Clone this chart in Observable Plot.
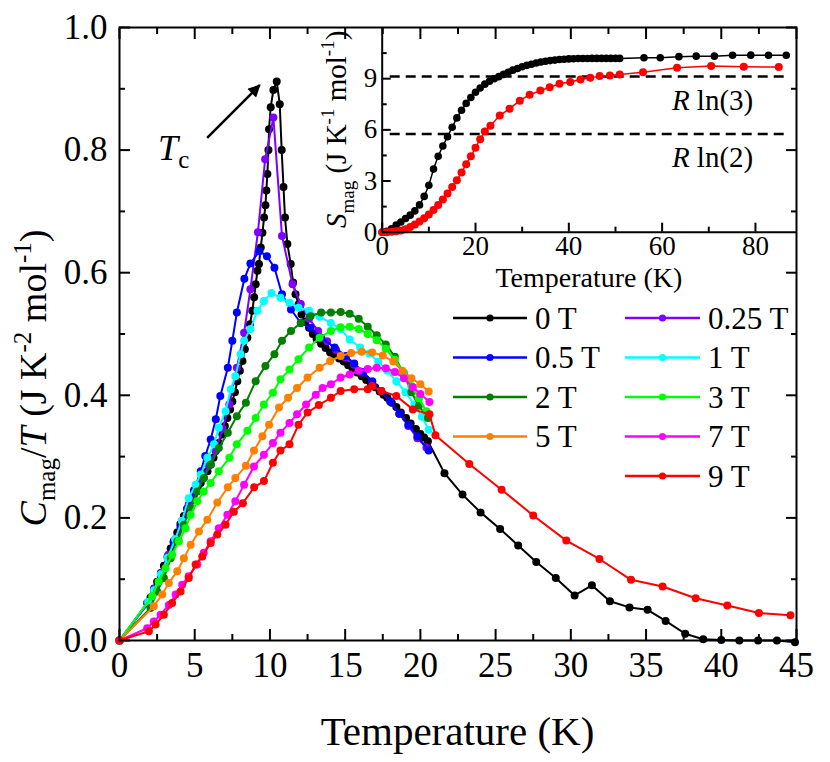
<!DOCTYPE html>
<html><head><meta charset="utf-8">
<script src="https://cdn.jsdelivr.net/npm/d3@7"></script>
<script src="https://cdn.jsdelivr.net/npm/@observablehq/plot@0.6"></script>
<style>
body{margin:0;background:#fff;}
#wrap{position:relative;width:830px;height:762px;overflow:hidden;}
#wrap svg{position:absolute;top:0;overflow:visible;}
</style></head><body><div id="wrap"></div>
<script>
const FONT = "'Liberation Serif','Times New Roman',serif";

// ---- main chart: C_mag/T vs Temperature ----
const fieldNames = ["0 T","0.25 T","0.5 T","1 T","2 T","3 T","5 T","7 T","9 T"];
const fieldColors = ["#000000","#8000ff","#0000ff","#00ffff","#008000","#00ff00","#ff8000","#ff00ff","#ff0000"];

const T_0T = [0,1.84,2.06,2.3,2.5,2.75,2.95,3.2,3.4,3.6,3.84,4.05,4.28,4.5,4.73,4.95,5.2,5.4,5.6,5.85,6.06,6.25,6.4,6.6,6.84,7.0,7.17,7.35,7.5,7.67,7.83,8.0,8.17,8.33,8.5,8.67,8.83,8.95,9.05,9.17,9.27,9.39,9.5,9.61,9.7,9.76,9.83,9.9,9.94,10.05,10.23,10.45,10.65,10.78,10.9,11.0,11.16,11.38,11.54,11.7,11.9,12.1,12.35,12.6,12.85,13.1,13.4,13.7,14.0,14.3,14.6,14.9,15.2,15.5,15.8,16.1,16.4,16.7,17.0,17.3,17.55,17.8,18.1,18.4,18.7,19.05,19.35,19.7,20.0,20.25,20.5,21.6,22.8,24.0,25.3,26.5,27.7,29.0,30.25,31.4,32.6,33.9,35.1,36.3,37.6,38.8,40.0,41.2,42.45,43.7,44.9];
const C_0T = [0,0.061,0.07,0.085,0.096,0.11,0.122,0.137,0.15,0.162,0.176,0.19,0.203,0.215,0.227,0.238,0.25,0.257,0.265,0.276,0.287,0.298,0.309,0.322,0.336,0.35,0.363,0.377,0.39,0.405,0.423,0.44,0.456,0.475,0.494,0.516,0.538,0.56,0.581,0.603,0.614,0.641,0.665,0.69,0.71,0.734,0.761,0.8,0.834,0.87,0.898,0.912,0.875,0.8,0.74,0.69,0.647,0.614,0.584,0.565,0.548,0.532,0.52,0.51,0.5,0.492,0.484,0.477,0.47,0.465,0.46,0.455,0.449,0.443,0.437,0.431,0.425,0.419,0.413,0.406,0.401,0.396,0.388,0.381,0.372,0.363,0.354,0.345,0.337,0.331,0.325,0.273,0.238,0.209,0.182,0.155,0.128,0.102,0.0735,0.09,0.064,0.054,0.05,0.032,0.011,0.002,0.001,0,0,0,-0.003];

const T_025T = [0,1.9,2.35,2.8,3.25,3.7,4.15,4.6,5.05,5.5,5.95,6.4,6.85,7.3,7.8,8.28,8.7,9.2,9.68,10.23,10.8,11.5,12.05,12.6,13.2,13.8,14.4,15.0,15.6,16.2,16.8,17.4,18.0,18.6,19.2,19.8,20.4];
const C_025T = [0,0.06,0.085,0.11,0.14,0.165,0.195,0.222,0.245,0.265,0.285,0.31,0.345,0.385,0.445,0.502,0.573,0.666,0.785,0.853,0.66,0.581,0.549,0.525,0.505,0.488,0.474,0.462,0.45,0.437,0.423,0.407,0.39,0.37,0.35,0.33,0.315];

const T_05T = [0,1.9,2.3,2.75,3.2,3.6,4.05,4.5,4.95,5.4,5.7,6.06,6.4,6.7,7.2,7.5,7.8,8.3,8.7,9.3,9.8,10.3,10.8,11.4,12.05,12.7,13.4,14.3,15.05,15.6,16.2,16.8,17.4,18.0,18.6,19.2,19.8,20.55];
const C_05T = [0,0.062,0.08,0.105,0.135,0.16,0.185,0.215,0.245,0.276,0.301,0.328,0.361,0.399,0.445,0.489,0.535,0.59,0.615,0.635,0.627,0.608,0.565,0.54,0.518,0.51,0.494,0.478,0.464,0.452,0.438,0.422,0.407,0.39,0.37,0.352,0.333,0.31];

const T_1T = [0,1.9,2.3,2.75,3.2,3.7,4.15,4.6,5.06,5.4,5.84,6.28,6.6,7.05,7.4,7.7,8.05,8.28,8.7,9.17,9.6,10.1,10.7,11.3,11.9,12.6,13.3,14.05,14.7,15.3,16.0,16.6,17.2,17.8,18.4,19.0,19.6,20.1,20.55];
const C_1T = [0,0.063,0.082,0.108,0.135,0.165,0.195,0.232,0.254,0.271,0.298,0.32,0.347,0.374,0.41,0.431,0.467,0.489,0.508,0.538,0.554,0.567,0.559,0.551,0.543,0.538,0.528,0.518,0.508,0.491,0.478,0.468,0.455,0.44,0.423,0.405,0.385,0.365,0.344];

const T_2T = [0,2.06,2.5,2.95,3.4,3.84,4.28,4.73,5.17,5.6,6.06,6.6,7.2,7.8,8.4,9.05,9.7,10.3,10.8,11.4,12.05,12.7,13.4,14.05,14.7,15.3,15.9,16.5,17.1,17.7,18.3,18.9,19.4,19.9,20.5];
const C_2T = [0,0.053,0.08,0.102,0.134,0.162,0.189,0.216,0.243,0.265,0.287,0.314,0.339,0.366,0.388,0.423,0.448,0.467,0.489,0.505,0.518,0.529,0.535,0.535,0.536,0.533,0.525,0.512,0.498,0.483,0.463,0.435,0.405,0.383,0.363];

const T_3T = [0,2.17,2.6,3.06,3.5,3.95,4.39,4.73,5.17,5.6,6.06,6.6,7.3,7.8,8.5,9.05,9.6,10.2,10.7,11.3,11.9,12.6,13.3,14.05,14.7,15.3,15.9,16.5,17.1,17.7,18.3,18.9,19.4,19.9,20.4];
const C_3T = [0,0.072,0.096,0.118,0.14,0.162,0.183,0.205,0.227,0.243,0.257,0.276,0.298,0.32,0.342,0.363,0.385,0.404,0.426,0.442,0.459,0.478,0.494,0.505,0.511,0.512,0.508,0.5,0.49,0.476,0.458,0.437,0.415,0.395,0.374];

const T_5T = [0,2.28,2.84,3.28,3.84,4.28,4.73,5.28,5.84,6.5,7.2,7.7,8.4,8.94,9.5,9.94,10.6,11.2,11.8,12.5,13.3,14.0,14.7,15.4,16.1,16.8,17.5,18.2,18.8,19.4,20.0,20.55];
const C_5T = [0,0.056,0.075,0.094,0.113,0.134,0.156,0.178,0.197,0.225,0.25,0.265,0.285,0.31,0.333,0.352,0.38,0.396,0.412,0.429,0.445,0.456,0.464,0.469,0.471,0.47,0.465,0.455,0.44,0.428,0.418,0.406];

const T_7T = [0,1.84,2.28,2.73,3.28,3.73,4.17,4.6,5.17,5.6,6.06,6.6,7.17,7.7,8.28,8.94,9.6,10.2,10.7,11.3,11.8,12.4,13.05,13.5,14.05,14.7,15.3,15.9,16.5,17.1,17.7,18.3,18.9,19.5,20.0,20.6];
const C_7T = [0,0.02,0.031,0.042,0.058,0.075,0.091,0.105,0.124,0.143,0.162,0.183,0.205,0.227,0.254,0.284,0.303,0.322,0.339,0.355,0.369,0.385,0.401,0.412,0.418,0.429,0.434,0.44,0.443,0.445,0.444,0.438,0.428,0.413,0.402,0.389];

const T_9T = [0,1.95,2.4,2.95,3.5,4.06,4.6,5.06,5.5,6.06,6.5,7.05,7.6,8.2,8.95,9.6,10.2,10.7,11.3,11.9,12.5,13.25,14.05,14.7,15.6,16.5,16.8,17.4,18.4,19.5,20.6,21.0,23.25,25.4,27.5,29.7,31.9,34.0,36.1,38.3,40.4,42.5,44.6];
const C_9T = [0,0.015,0.026,0.042,0.061,0.08,0.102,0.124,0.137,0.159,0.173,0.189,0.21,0.224,0.25,0.26,0.29,0.31,0.32,0.352,0.372,0.384,0.396,0.407,0.41,0.41,0.415,0.407,0.399,0.377,0.369,0.335,0.288,0.246,0.204,0.163,0.133,0.099,0.088,0.069,0.057,0.045,0.041];

const seriesT = [T_0T,T_025T,T_05T,T_1T,T_2T,T_3T,T_5T,T_7T,T_9T];
const seriesC = [C_0T,C_025T,C_05T,C_1T,C_2T,C_3T,C_5T,C_7T,C_9T];

const mainXTicks = [0,5,10,15,20,25,30,35,40,45];
const mainXMinor = [2.5,7.5,12.5,17.5,22.5,27.5,32.5,37.5,42.5];
const mainYTicks = [0,0.2,0.4,0.6,0.8,1.0];
const mainYMinor = [0.1,0.3,0.5,0.7,0.9];

// T_c annotation (data coordinates)
const tcArrow = {x1: 5.86, y1: 0.819, x2: 9.35, y2: 0.905};
const tcLabel = {x: 2.6, y: 0.783};

// ---- inset: S_mag vs Temperature ----
const insetT_0T = [0,1,2,3,4,5,6,7,8,9,10,11,12,13,14,15,16,17,18,19,20,21,22,23,24,25,26,27,28,29,30,31,32,33,34,35,36,37,38,39,40,41,42,43,44,45,46,47,48,49,50,50.9,56.1,59.6,63.6,67.3,71.2,75.1,79.0,82.8,86.6];
const insetS_0T = [0,0.05,0.2,0.42,0.6,0.8,1.0,1.25,1.6,2.1,2.75,3.7,4.45,5.05,5.6,6.15,6.7,7.15,7.55,7.9,8.2,8.45,8.68,8.85,9.0,9.12,9.25,9.38,9.5,9.6,9.7,9.78,9.85,9.92,9.98,10.02,10.06,10.09,10.12,10.14,10.16,10.17,10.18,10.18,10.18,10.19,10.19,10.19,10.19,10.19,10.19,10.19,10.23,10.23,10.29,10.32,10.32,10.37,10.38,10.37,10.37];
const insetT_9T = [0,1,2,3,4,5,6,7,8,9,10,11,12,13,14,15,16,17,18,19,20,21,22,23.2,25.2,27.3,29.5,31.6,33.9,35.9,38,40.3,42.5,44.6,46.6,48.8,50.9,55.9,63.2,70.5,77.5,85];
const insetS_9T = [0,0,0.02,0.05,0.1,0.18,0.3,0.45,0.62,0.82,1.04,1.3,1.6,1.92,2.27,2.65,3.05,3.5,3.98,4.45,4.95,5.45,5.9,6.24,6.84,7.24,7.71,8.06,8.3,8.5,8.7,8.81,8.95,9.05,9.15,9.19,9.25,9.38,9.64,9.74,9.7,9.68];
const entropyLines = [Math.log(3)*8.314, Math.log(2)*8.314];
const entropyLabels = ["3","2"];
const insetXTicks = [0,20,40,60,80];
const insetXMinor = [10,30,50,70];
const insetYTicks = [0,3,6,9];
const insetYMinor = [1.5,4.5,7.5,10.5];

// ---- build main plot ----
const mainMarks = [];
seriesT.forEach((Ts, k) => {
  const rows = Ts.map((t, i) => ({T: t, C: seriesC[k][i]}));
  mainMarks.push(Plot.line(rows, {x: "T", y: "C", stroke: fieldColors[k], strokeWidth: 2}));
  mainMarks.push(Plot.dot(rows, {x: "T", y: "C", fill: fieldColors[k], r: 4}));
});

const tickStyle = {strokeWidth: 2, label: null, tickFormat: () => ""};
const main = Plot.plot({
  width: 830, height: 762,
  marginLeft: 119, marginRight: 34, marginTop: 27, marginBottom: 122,
  style: {fontFamily: FONT, background: "transparent", color: "black"},
  x: {domain: [0, 45]},
  y: {domain: [0, 1]},
  marks: [
    Plot.axisX(mainXTicks, {...tickStyle, anchor: "bottom", tickSize: -11}),
    Plot.axisX(mainXMinor, {...tickStyle, anchor: "bottom", tickSize: -6}),
    Plot.axisX(mainXTicks, {...tickStyle, anchor: "top", tickSize: -11}),
    Plot.axisX(mainXMinor, {...tickStyle, anchor: "top", tickSize: -6}),
    Plot.axisY(mainYTicks, {...tickStyle, anchor: "left", tickSize: -11}),
    Plot.axisY(mainYMinor, {...tickStyle, anchor: "left", tickSize: -6}),
    Plot.axisY(mainYTicks, {...tickStyle, anchor: "right", tickSize: -11}),
    Plot.axisY(mainYMinor, {...tickStyle, anchor: "right", tickSize: -6}),
    Plot.axisX(mainXTicks, {anchor: "bottom", tickSize: 0, tickPadding: 12, fontSize: 35, label: null, tickFormat: d => String(d)}),
    Plot.axisY(mainYTicks, {anchor: "left", tickSize: 0, tickPadding: 12, fontSize: 35, label: null, tickFormat: d3.format(".1f")}),
    ...mainMarks,
    Plot.frame({strokeWidth: 2})
  ]
});
main.style.left = "0px";
document.getElementById("wrap").appendChild(main);

const sx = main.scale("x"), sy = main.scale("y");
const msvg = d3.select(main);

// y-axis title
const yt = msvg.append("text")
  .attr("transform", "translate(46,378) rotate(-90)")
  .attr("text-anchor", "middle")
  .style("font-family", FONT).style("font-size", "38px").attr("fill", "black");
yt.append("tspan").style("font-style", "italic").text("C");
yt.append("tspan").attr("dy", 9).style("font-size", "25px").text("mag");
yt.append("tspan").attr("dy", -9).text("/");
yt.append("tspan").style("font-style", "italic").text("T");
yt.append("tspan").text(" (J K");
yt.append("tspan").attr("dy", -15).style("font-size", "25px").text("-2");
yt.append("tspan").attr("dy", 15).text(" mol");
yt.append("tspan").attr("dy", -15).style("font-size", "25px").text("-1");
yt.append("tspan").attr("dy", 15).text(")");

// x-axis title
msvg.append("text").attr("x", (sx.range[0] + sx.range[1]) / 2).attr("y", 745)
  .attr("text-anchor", "middle").style("font-family", FONT).style("font-size", "41px")
  .text("Temperature (K)");

// T_c annotation
const defs = msvg.append("defs");
defs.append("marker").attr("id", "ah").attr("viewBox", "0 0 10 10").attr("refX", 9).attr("refY", 5)
  .attr("markerWidth", 6).attr("markerHeight", 5).attr("markerUnits", "strokeWidth").attr("orient", "auto")
  .append("path").attr("d", "M0,0L10,5L0,10z").attr("fill", "black");
msvg.append("line")
  .attr("x1", sx.apply(tcArrow.x1)).attr("y1", sy.apply(tcArrow.y1))
  .attr("x2", sx.apply(tcArrow.x2)).attr("y2", sy.apply(tcArrow.y2))
  .attr("stroke", "black").attr("stroke-width", 2.5).attr("marker-end", "url(#ah)");
const tc = msvg.append("text").attr("x", sx.apply(tcLabel.x)).attr("y", sy.apply(tcLabel.y))
  .attr("text-anchor", "start")
  .style("font-family", FONT).style("font-size", "36px");
tc.append("tspan").style("font-style", "italic").text("T");
tc.append("tspan").attr("dy", 8).style("font-size", "25px").text("c");

// legend
const legendRows = [[0,1],[2,3],[4,5],[6,7],[null,8]];
const legendCols = [{x1: 453, x2: 527, tx: 535}, {x1: 625, x2: 700, tx: 708}];
const lg = msvg.append("g");
legendRows.forEach((row, r) => {
  const y = 318 + r * 39.5;
  row.forEach((k, c) => {
    if (k === null) return;
    const col = legendCols[c];
    const g = lg.append("g");
    g.append("line").attr("x1", col.x1).attr("x2", col.x2).attr("y1", y).attr("y2", y)
      .attr("stroke", fieldColors[k]).attr("stroke-width", 2.5);
    g.append("circle").attr("cx", (col.x1 + col.x2) / 2).attr("cy", y).attr("r", 3.6).attr("fill", fieldColors[k]);
    g.append("text").attr("x", col.tx).attr("y", y).attr("dy", "0.35em").attr("text-anchor", "start")
      .style("font-family", FONT).style("font-size", "31px").text(fieldNames[k]);
  });
});

// ---- inset plot ----
const insetRows0 = insetT_0T.map((t, i) => ({T: t, S: insetS_0T[i]}));
const insetRows9 = insetT_9T.map((t, i) => ({T: t, S: insetS_9T[i]}));
const inset = Plot.plot({
  width: 500, height: 300,
  marginLeft: 81.7, marginRight: 4, marginTop: 27, marginBottom: 68.3,
  style: {fontFamily: FONT, background: "transparent", color: "black"},
  x: {domain: [0, 88.8]},
  y: {domain: [0, 12]},
  marks: [
    Plot.ruleY(entropyLines, {y: d => d, strokeWidth: 2.5, strokeDasharray: "10,6", insetLeft: 8, insetRight: 8}),
    Plot.axisX(insetXTicks, {...tickStyle, anchor: "bottom", tickSize: -9}),
    Plot.axisX(insetXMinor, {...tickStyle, anchor: "bottom", tickSize: -5}),
    Plot.axisY(insetYTicks, {...tickStyle, anchor: "left", tickSize: -9}),
    Plot.axisY(insetYMinor, {...tickStyle, anchor: "left", tickSize: -5}),
    Plot.axisX(insetXTicks, {anchor: "bottom", tickSize: 0, tickPadding: 4, fontSize: 27, label: null, tickFormat: d => String(d)}),
    Plot.axisY(insetYTicks, {anchor: "left", tickSize: 0, tickPadding: 5, fontSize: 27, label: null, tickFormat: d => String(d)}),
    Plot.line(insetRows0, {x: "T", y: "S", stroke: "#000000", strokeWidth: 1.5}),
    Plot.dot(insetRows0, {x: "T", y: "S", fill: "#000000", r: 3.8}),
    Plot.line(insetRows9, {x: "T", y: "S", stroke: "#ff0000", strokeWidth: 1.5}),
    Plot.dot(insetRows9, {x: "T", y: "S", fill: "#ff0000", r: 4}),
    Plot.ruleX([0], {strokeWidth: 2}),
    Plot.ruleY([0], {strokeWidth: 2})
  ]
});
inset.style.left = "300px";
document.getElementById("wrap").appendChild(inset);
const ix = inset.scale("x"), iy = inset.scale("y");
const isvg = d3.select(inset);

// R ln labels
entropyLines.forEach((v, i) => {
  const t = isvg.append("text").attr("x", ix.apply(62.2)).attr("y", iy.apply(v) + 34)
    .attr("text-anchor", "start")
    .style("font-family", FONT).style("font-size", "29px");
  t.append("tspan").style("font-style", "italic").text("R");
  t.append("tspan").text(" ln(" + entropyLabels[i] + ")");
});

// inset axis titles
isvg.append("text").attr("x", (ix.range[0] + ix.range[1]) / 2).attr("y", 287)
  .attr("text-anchor", "middle").style("font-family", FONT).style("font-size", "28px")
  .text("Temperature (K)");
const st = isvg.append("text")
  .attr("transform", `translate(46,${(iy.range[0] + iy.range[1]) / 2}) rotate(-90)`)
  .attr("text-anchor", "middle").style("font-family", FONT).style("font-size", "29px");
st.append("tspan").style("font-style", "italic").text("S");
st.append("tspan").attr("dy", 8).style("font-size", "19px").text("mag");
st.append("tspan").attr("dy", -8).text(" (J K");
st.append("tspan").attr("dy", -12).style("font-size", "19px").text("-1");
st.append("tspan").attr("dy", 12).text(" mol");
st.append("tspan").attr("dy", -12).style("font-size", "19px").text("-1");
st.append("tspan").attr("dy", 12).text(")");
</script>
</body></html>
